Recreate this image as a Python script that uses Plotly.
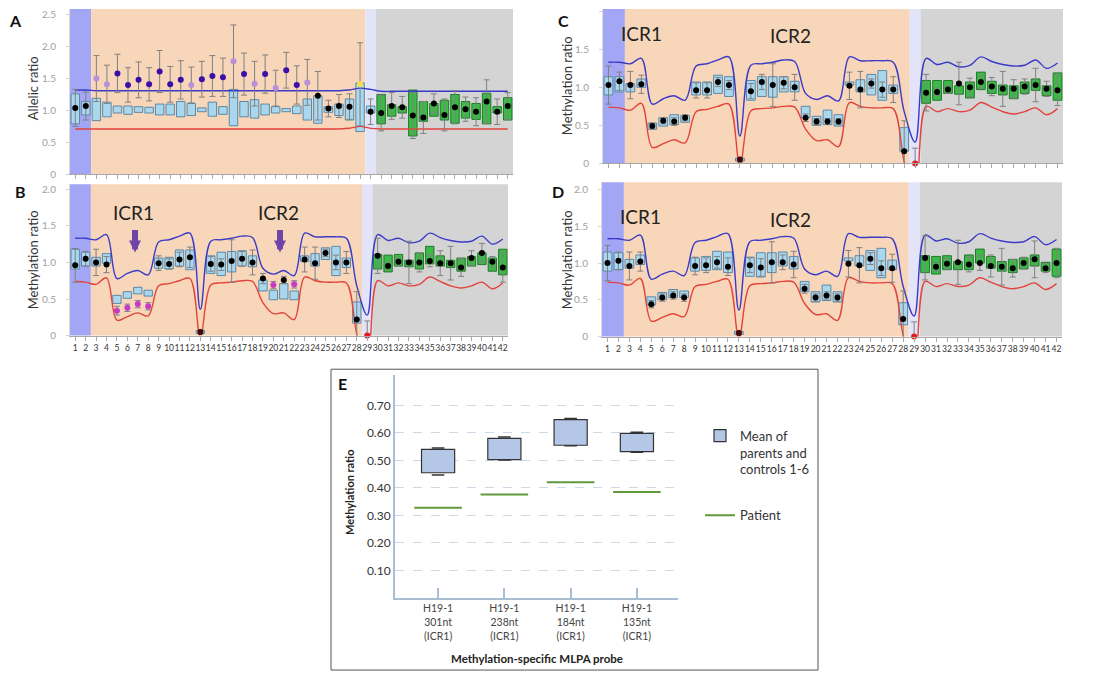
import plotly.graph_objects as go

# ---- data -------------------------------------------------------------
probes = list(range(1, 43))
probe_labels = [str(p) for p in probes]

# panel A (allelic ratio)
a_q1 = [0.79, 0.93, 0.84, 0.90, 0.96, 0.94, 0.97, 0.96, 0.93, 0.93, 0.90, 0.92, 0.98, 0.91,
        0.94, 0.76, 0.90, 0.88, 0.93, 0.96, 0.98, 0.95, 0.85, 0.80, 0.97, 0.92, 0.85, 0.67,
        0.96, 0.79, 0.91, 0.96, 0.60, 0.83, 0.91, 0.85, 0.80, 0.88, 0.86, 0.79, 0.96, 0.85]
a_q3 = [1.26, 1.14, 1.19, 1.13, 1.07, 1.07, 1.06, 1.05, 1.10, 1.10, 1.14, 1.11, 1.04, 1.13,
        1.06, 1.33, 1.14, 1.17, 1.10, 1.06, 1.03, 1.07, 1.18, 1.23, 1.06, 1.10, 1.18, 1.43,
        1.07, 1.25, 1.09, 1.06, 1.32, 1.14, 1.11, 1.16, 1.25, 1.14, 1.11, 1.27, 1.06, 1.20]
a_dot = [1.04, 1.07, 1.50, 1.41, 1.58, 1.40, 1.48, 1.41, 1.61, 1.41, 1.48, 1.40, 1.49, 1.54,
         1.52, 1.77, 1.57, 1.42, 1.57, 1.35, 1.63, 1.40, 1.44, 1.23, 1.03, 1.07, 1.06, 1.41,
         0.98, 0.96, 1.07, 1.05, 0.92, 0.89, 1.11, 0.93, 1.05, 1.02, 0.98, 1.14, 0.98, 1.07]
a_err = [0.29, 0.22, 0.36, 0.30, 0.30, 0.27, 0.28, 0.26, 0.33, 0.28, 0.30, 0.28, 0.28, 0.32,
         0.30, 0.57, 0.33, 0.35, 0.30, 0.28, 0.28, 0.30, 0.36, 0.38, 0.13, 0.18, 0.20, 0.65,
         0.20, 0.28, 0.21, 0.17, 0.36, 0.25, 0.15, 0.25, 0.26, 0.19, 0.22, 0.34, 0.20, 0.21]
a_kind = ['k', 'k', 'l', 'l', 'p', 'p', 'p', 'p', 'p', 'p', 'p', 'l', 'p', 'p',
          'p', 'l', 'p', 'l', 'p', 'l', 'p', 'p', 'l', 'k', 'k', 'k', 'k', 'y',
          'k', 'k', 'k', 'k', 'k', 'k', 'k', 'k', 'k', 'k', 'k', 'k', 'k', 'k']
a_upper = [1.32, 1.32, 1.31, 1.31, 1.31, 1.31, 1.31, 1.31, 1.31, 1.31, 1.31, 1.31, 1.31, 1.31,
           1.31, 1.31, 1.31, 1.31, 1.31, 1.31, 1.31, 1.31, 1.31, 1.31, 1.31, 1.31, 1.32, 1.35,
           1.33, 1.30, 1.30, 1.30, 1.30, 1.30, 1.30, 1.30, 1.30, 1.30, 1.30, 1.30, 1.30, 1.30]
a_lower = [0.71, 0.71, 0.71, 0.71, 0.71, 0.71, 0.71, 0.71, 0.71, 0.71, 0.71, 0.71, 0.71, 0.71,
           0.71, 0.71, 0.71, 0.71, 0.71, 0.71, 0.71, 0.71, 0.71, 0.71, 0.71, 0.71, 0.72, 0.75,
           0.72, 0.71, 0.71, 0.71, 0.71, 0.71, 0.71, 0.71, 0.71, 0.71, 0.71, 0.71, 0.71, 0.71]

# thresholds shared by the methylation panels B, C, D
m_upper = [1.33, 1.33, 1.31, 1.38, 0.78, 0.85, 0.89, 0.83, 1.28, 1.31, 1.36, 1.40, 0.36, 1.29,
           1.31, 1.33, 1.36, 1.34, 0.92, 0.84, 0.89, 0.82, 1.40, 1.35, 1.35, 1.35, 1.33, 0.68,
           0.28, 1.38, 1.30, 1.33, 1.27, 1.29, 1.40, 1.34, 1.30, 1.28, 1.29, 1.36, 1.25, 1.32]
m_lower = [0.74, 0.73, 0.70, 0.79, 0.21, 0.26, 0.31, 0.27, 0.68, 0.71, 0.75, 0.78, -0.02, 0.69,
           0.72, 0.73, 0.75, 0.74, 0.45, 0.30, 0.31, 0.22, 0.80, 0.75, 0.73, 0.73, 0.72, 0.02,
           -0.45, 0.75, 0.68, 0.72, 0.68, 0.70, 0.80, 0.74, 0.68, 0.65, 0.68, 0.73, 0.64, 0.72]

# panel B
b_q1 = [0.91, 0.95, 0.95, 0.99, 0.44, 0.51, 0.57, 0.54, 0.92, 0.91, 0.95, 0.90, 0.03, 0.85,
        0.82, 0.87, 0.95, 0.94, 0.61, 0.49, 0.50, 0.49, 1.01, 0.95, 1.04, 0.82, 0.93, 0.17,
        None, 0.91, 0.87, 0.95, 0.94, 0.91, 0.98, 0.95, 0.93, 0.88, 0.95, 0.97, 0.88, 0.83]
b_q3 = [1.18, 1.14, 1.07, 1.12, 0.55, 0.60, 0.66, 0.62, 1.06, 1.07, 1.17, 1.17, 0.07, 1.09,
        1.14, 1.15, 1.16, 1.09, 0.76, 0.62, 0.71, 0.61, 1.09, 1.12, 1.20, 1.22, 1.06, 0.46,
        None, 1.11, 1.10, 1.11, 1.03, 1.13, 1.22, 1.09, 1.03, 1.06, 1.08, 1.13, 1.06, 1.18]
b_dot = [0.96, 1.05, 1.00, 0.97, 0.34, 0.38, 0.43, 0.40, 0.99, 0.98, 1.04, 1.07, 0.05, 0.98,
         0.97, 1.02, 1.05, 1.00, 0.78, 0.69, 0.76, 0.70, 1.04, 0.99, 1.13, 1.00, 1.00, 0.22,
         0.00, 1.09, 0.95, 1.01, 1.00, 1.00, 1.02, 0.99, 0.99, 0.93, 1.06, 1.13, 1.01, 0.93]
b_err = [0.23, 0.10, 0.18, 0.11, 0.06, 0.05, 0.05, 0.05, 0.10, 0.07, 0.10, 0.14, 0.03, 0.10,
         0.08, 0.29, 0.10, 0.17, 0.07, 0.05, 0.05, 0.05, 0.17, 0.22, 0.05, 0.10, 0.15, 0.38,
         0.20, 0.24, 0.05, 0.05, 0.29, 0.13, 0.08, 0.17, 0.23, 0.12, 0.10, 0.13, 0.07, 0.20]
b_kind = ['k', 'k', 'k', 'k', 'm', 'm', 'm', 'm', 'k', 'k', 'k', 'k', 'd', 'k',
          'k', 'k', 'k', 'k', 'k', 'm', 'k', 'm', 'k', 'k', 'k', 'k', 'k', 'k',
          'r', 'k', 'k', 'k', 'k', 'k', 'k', 'k', 'k', 'k', 'k', 'k', 'k', 'k']

# panel C
c_q1 = [0.90, 0.94, 0.94, 1.00, 0.45, 0.49, 0.51, 0.54, 0.90, 0.90, 0.92, 0.88, 0.03, 0.83,
        0.88, 0.87, 0.94, 0.94, 0.60, 0.50, 0.51, 0.49, 1.03, 0.94, 0.90, 0.83, 0.92, 0.16,
        None, 0.79, 0.83, 0.92, 0.91, 0.86, 0.97, 0.92, 0.90, 0.85, 0.92, 0.96, 0.89, 0.83]
c_q3 = [1.14, 1.14, 1.05, 1.11, 0.53, 0.60, 0.64, 0.63, 1.07, 1.07, 1.16, 1.14, 0.07, 1.09,
        1.14, 1.14, 1.14, 1.08, 0.75, 0.62, 0.70, 0.64, 1.07, 1.10, 1.17, 1.22, 1.03, 0.47,
        None, 1.09, 1.09, 1.09, 1.02, 1.07, 1.20, 1.08, 1.03, 1.02, 1.07, 1.11, 1.02, 1.19]
c_dot = [1.03, 1.08, 1.03, 1.04, 0.49, 0.56, 0.55, 0.60, 0.96, 0.96, 1.07, 1.03, 0.05, 0.95,
         1.07, 1.03, 1.06, 1.00, 0.60, 0.55, 0.55, 0.55, 1.02, 0.97, 1.05, 0.97, 0.97, 0.16,
         0.00, 0.93, 0.94, 0.97, 1.05, 1.00, 1.07, 1.01, 0.98, 0.98, 1.01, 1.03, 0.98, 0.96]
c_err = [0.25, 0.12, 0.18, 0.12, 0.04, 0.04, 0.05, 0.04, 0.10, 0.10, 0.06, 0.06, 0.03, 0.10,
         0.10, 0.28, 0.08, 0.17, 0.05, 0.04, 0.04, 0.04, 0.18, 0.24, 0.06, 0.10, 0.17, 0.40,
         0.20, 0.24, 0.05, 0.05, 0.28, 0.12, 0.08, 0.12, 0.23, 0.12, 0.10, 0.22, 0.10, 0.20]

# panel D
d_q1 = [0.89, 0.91, 0.93, 0.98, 0.43, 0.50, 0.53, 0.53, 0.89, 0.90, 0.91, 0.87, 0.03, 0.82,
        0.81, 0.87, 0.96, 0.92, 0.61, 0.47, 0.49, 0.47, 1.03, 0.96, 0.90, 0.80, 0.91, 0.16,
        None, 0.87, 0.85, 0.91, 0.91, 0.91, 1.00, 0.93, 0.89, 0.87, 0.92, 0.96, 0.89, 0.82]
d_q3 = [1.15, 1.14, 1.05, 1.11, 0.54, 0.60, 0.64, 0.62, 1.07, 1.09, 1.16, 1.15, 0.07, 1.08,
        1.14, 1.14, 1.15, 1.09, 0.75, 0.61, 0.70, 0.61, 1.07, 1.10, 1.17, 1.20, 1.04, 0.46,
        None, 1.10, 1.09, 1.10, 1.02, 1.11, 1.19, 1.09, 1.02, 1.05, 1.07, 1.11, 1.01, 1.19]
d_dot = [1.00, 1.03, 0.96, 1.02, 0.44, 0.53, 0.56, 0.53, 0.96, 0.97, 1.01, 0.95, 0.05, 0.97,
         0.94, 1.01, 1.01, 0.98, 0.65, 0.53, 0.56, 0.53, 0.99, 0.97, 1.06, 0.93, 0.93, 0.24,
         0.00, 1.07, 0.95, 0.99, 1.01, 0.98, 1.00, 0.96, 0.95, 0.93, 1.00, 1.05, 0.93, 1.00]
d_err = [0.24, 0.12, 0.19, 0.13, 0.05, 0.05, 0.05, 0.05, 0.12, 0.10, 0.08, 0.12, 0.03, 0.10,
         0.12, 0.28, 0.10, 0.18, 0.06, 0.05, 0.05, 0.05, 0.18, 0.24, 0.08, 0.10, 0.19, 0.38,
         0.20, 0.30, 0.06, 0.07, 0.30, 0.10, 0.10, 0.15, 0.25, 0.12, 0.08, 0.25, 0.06, 0.20]
cd_kind = ['k', 'k', 'k', 'k', 'k', 'k', 'k', 'k', 'k', 'k', 'k', 'k', 'd', 'k',
           'k', 'k', 'k', 'k', 'k', 'k', 'k', 'k', 'k', 'k', 'k', 'k', 'k', 'k',
           'r', 'k', 'k', 'k', 'k', 'k', 'k', 'k', 'k', 'k', 'k', 'k', 'k', 'k']

# region boundaries along the probe axis
region_edges = [0.5, 2.5, 28.5, 29.5, 42.5]
region_colors = ['#a3a6f4', '#f8d6b9', '#e3e4fa', '#d4d4d4']

# panel E
e_probes = ['H19-1<br>301nt<br>(ICR1)', 'H19-1<br>238nt<br>(ICR1)',
            'H19-1<br>184nt<br>(ICR1)', 'H19-1<br>135nt<br>(ICR1)']
e_q1 = [0.455, 0.503, 0.555, 0.532]
e_q3 = [0.540, 0.580, 0.648, 0.598]
e_low = [0.447, 0.501, 0.553, 0.530]
e_high = [0.545, 0.585, 0.652, 0.602]
e_patient = [0.328, 0.376, 0.420, 0.385]
e_ticks = [0.1, 0.2, 0.3, 0.4, 0.5, 0.6, 0.7]

KIND_COLORS = {'k': '#000000', 'l': '#b98fd8', 'p': '#3a10a8', 'y': '#f5e04a',
               'm': '#c63ac6', 'd': '#4a0505', 'r': '#e01c1c'}
FONT = 'Lato, Open Sans, sans-serif'

# the page body has an 8px margin, so the figure is placed 8px in from the corner
OFF = 8
W, H = 1100 - OFF, 682 - OFF


def px(x):
    return (x - OFF) / W


def py(y):
    return 1 - (y - OFF) / H


fig = go.Figure()

# panel geometry in window pixels: (left, right, top, bottom)
panels = {
    'A': dict(ax='', box=(70, 513, 8, 175), ymax=2.59, labels=False,
              yt=[0, 0.5, 1, 1.5, 2, 2.5]),
    'B': dict(ax='2', box=(70, 508, 185, 338), ymax=2.07, labels=True,
              yt=[0, 0.5, 1, 1.5, 2]),
    'C': dict(ax='3', box=(603, 1063, 8, 164), ymax=2.03, labels=False,
              yt=[0, 0.5, 1, 1.5, 2]),
    'D': dict(ax='4', box=(602, 1062, 183, 339), ymax=2.1, labels=True,
              yt=[0, 0.5, 1, 1.5, 2]),
}
series = {
    'A': (a_q1, a_q3, a_dot, a_err, a_kind, a_upper, a_lower),
    'B': (b_q1, b_q3, b_dot, b_err, b_kind, m_upper, m_lower),
    'C': (c_q1, c_q3, c_dot, c_err, cd_kind, m_upper, m_lower),
    'D': (d_q1, d_q3, d_dot, d_err, cd_kind, m_upper, m_lower),
}

shapes = []
for name, p in panels.items():
    xa, ya = 'x' + p['ax'], 'y' + p['ax']
    q1, q3, dot, err, kind, up, lo = series[name]
    heights = [None if a is None else b - a for a, b in zip(q1, q3)]
    fill = ['#a9d8ee' if n <= 29 else '#3cba48' for n in probes]
    edge = ['#5d88a6' if n <= 29 else '#23782b' for n in probes]
    fig.add_trace(go.Bar(x=probes, y=heights, base=q1, width=0.8, xaxis=xa, yaxis=ya,
                         marker=dict(color=fill, line=dict(color=edge, width=1)),
                         showlegend=False, hoverinfo='skip'))
    fig.add_trace(go.Scatter(x=probes, y=up, mode='lines', xaxis=xa, yaxis=ya,
                             line=dict(color='#3a3ac8', width=1.4, shape='spline'),
                             showlegend=False))
    fig.add_trace(go.Scatter(x=probes, y=lo, mode='lines', xaxis=xa, yaxis=ya,
                             line=dict(color='#e2433b', width=1.4, shape='spline'),
                             showlegend=False))
    fig.add_trace(go.Scatter(x=probes, y=dot, mode='markers', xaxis=xa, yaxis=ya,
                             marker=dict(size=6, color=[KIND_COLORS[k] for k in kind]),
                             error_y=dict(type='data', array=err, color='#808080',
                                          thickness=1, width=3),
                             cliponaxis=False, showlegend=False))
    for i, col in enumerate(region_colors):
        shapes.append(dict(type='rect', xref=xa, yref=ya + ' domain',
                           x0=region_edges[i], x1=region_edges[i + 1], y0=0, y1=1,
                           fillcolor=col, line=dict(width=0), layer='below'))

# panel E
fig.add_trace(go.Bar(x=[0, 1, 2, 3], y=[b - a for a, b in zip(e_q1, e_q3)], base=e_q1,
                     width=0.5, xaxis='x5', yaxis='y5', name='Mean of<br>parents and<br>controls 1-6',
                     marker=dict(color='#b4c7e7', line=dict(color='#333333', width=1.2)),
                     legendgroup='g1'))
for vals in (e_low, e_high):
    fig.add_trace(go.Scatter(x=[0, 1, 2, 3], y=vals, mode='markers', xaxis='x5', yaxis='y5',
                             marker=dict(symbol='line-ew', size=9,
                                         line=dict(color='#333333', width=1.5)),
                             showlegend=False))
fig.add_trace(go.Scatter(x=[0, 1, 2, 3], y=e_patient, mode='markers', xaxis='x5', yaxis='y5',
                         marker=dict(symbol='line-ew', size=34,
                                     line=dict(color='#5f9a3d', width=2)),
                         showlegend=False))
fig.add_trace(go.Scatter(x=[None], y=[None], mode='lines', xaxis='x5', yaxis='y5',
                         name='Patient', line=dict(color='#5f9a3d', width=2),
                         legendgroup='g2'))

shapes.append(dict(type='rect', xref='paper', yref='paper', x0=px(331), x1=px(818),
                   y0=py(676), y1=py(372), line=dict(color='#555555', width=1)))

layout = dict(
    width=W, height=H, margin=dict(l=0, r=0, t=0, b=0), autosize=False,
    paper_bgcolor='white', plot_bgcolor='rgba(0,0,0,0)', barmode='overlay',
    font=dict(family=FONT, color='#333333'), shapes=shapes,
    legend=dict(x=px(700), y=py(424), xanchor='left', yanchor='top', valign='top',
                font=dict(size=13, color='#333333'), tracegroupgap=26,
                bgcolor='rgba(0,0,0,0)'),
)

for name, p in panels.items():
    l, r, t, b = p['box']
    ax = p['ax']
    layout['xaxis' + ax] = dict(
        domain=[px(l), px(r)], range=[0.5, 42.5], anchor='y' + ax,
        tickvals=probes, ticktext=probe_labels, showticklabels=p['labels'],
        tickfont=dict(size=8.5, color='#333333'), tickangle=0,
        ticks='outside', ticklen=4, tickcolor='#a8a8a8', showline=True,
        linecolor='#a8a8a8', showgrid=False, zeroline=False)
    layout['yaxis' + ax] = dict(
        domain=[py(b), py(t)], range=[0, p['ymax']], anchor='x' + ax,
        tickvals=p['yt'], ticktext=['0' if v == 0 else f'{v:.1f}' for v in p['yt']],
        tickfont=dict(size=10, color='#a0a0a0'), ticks='outside', ticklen=3,
        tickcolor='#d0d0d0', ticklabelstandoff=8, showline=True, linecolor='#dcdcdc',
        showgrid=False, zeroline=False)

layout['xaxis5'] = dict(
    domain=[px(395), px(678)], range=[-0.65, 3.62], anchor='y5',
    tickvals=[0, 1, 2, 3], ticktext=e_probes, tickfont=dict(size=10.5, color='#444444'),
    ticks='inside', ticklen=10, tickcolor='#a9bdd3', tickwidth=1.5,
    showline=True, linecolor='#a9bdd3', linewidth=2, showgrid=False, zeroline=False)
layout['yaxis5'] = dict(
    domain=[py(603), py(378)], range=[0, 0.81], anchor='x5',
    tickvals=e_ticks, ticktext=[f'{v:.2f}' for v in e_ticks],
    tickfont=dict(size=12, color='#333333'), showline=True, linecolor='#a9bdd3',
    linewidth=2, showgrid=True, gridcolor='#cdd9e6', griddash='dash', zeroline=False)

fig.update_layout(**layout)


def label(text, x, y, size, color='#222222', angle=0):
    return dict(text=text, x=px(x), y=py(y), xref='paper', yref='paper',
                xanchor='center', yanchor='middle', textangle=angle,
                showarrow=False, font=dict(size=size, color=color))


ann = []
for lab, (x, y) in {'A': (15, 20), 'B': (20, 192), 'C': (563, 20), 'D': (558, 192),
                    'E': (342, 386)}.items():
    ann.append(label(f'<b>{lab}</b>', x, y, 16, '#111111'))
ann.append(label('Allelic ratio', 33, 88, 13, '#333333', -90))
for x, y in [(33, 262), (567, 86), (567, 262)]:
    ann.append(label('Methylation ratio', x, y, 13, '#333333', -90))
for txt, x, y in [('ICR1', 133, 214), ('ICR2', 278, 214), ('ICR1', 641, 33),
                  ('ICR2', 790, 35), ('ICR1', 640, 218), ('ICR2', 790, 221)]:
    ann.append(label(txt, x, y, 19))
for x in (135, 280):
    ann.append(dict(text='', x=px(x), y=py(254), xref='paper', yref='paper',
                    ax=0, ay=-24, showarrow=True, arrowhead=2, arrowsize=0.4,
                    arrowwidth=6, arrowcolor='#6e44a8'))
ann.append(label('<b>Methylation ratio</b>', 350, 497, 11, angle=-90))
ann.append(label('<b>Methylation-specific MLPA probe</b>', 537, 664, 11.5))
fig.update_layout(annotations=ann)

fig.write_html("out.html")
